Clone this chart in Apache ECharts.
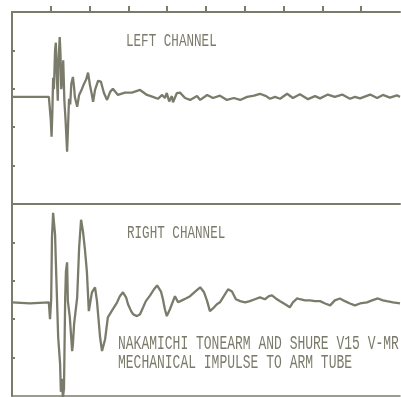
<!DOCTYPE html>
<html><head><meta charset="utf-8">
<script src="https://cdn.jsdelivr.net/npm/echarts@6/dist/echarts.min.js"></script>
<style>html,body{margin:0;padding:0;background:#fff}#c{width:401px;height:397px}</style>
</head><body><div id="c"></div>
<script>
// time in screen divisions, amplitude in vertical divisions
const leftT = [0,0.95,0.98,1.0,1.02,1.04,1.06,1.08,1.11,1.13,1.15,1.18,1.2,1.23,1.25,1.27,1.3,1.32,1.35,1.38,1.42,1.44,1.47,1.5,1.53,1.57,1.6,1.62,1.68,1.73,1.8,1.86,1.91,1.96,2.01,2.06,2.09,2.14,2.22,2.29,2.37,2.45,2.53,2.6,2.73,2.91,3.09,3.3,3.48,3.63,3.76,3.87,3.94,3.99,4.05,4.12,4.15,4.25,4.33,4.46,4.59,4.77,4.85,5.03,5.18,5.36,5.54,5.72,5.88,6.06,6.24,6.39,6.55,6.65,6.78,6.91,7.09,7.24,7.42,7.63,7.81,7.94,8.14,8.32,8.51,8.71,8.84,8.97,9.23,9.41,9.56,9.74,9.92,10];
const leftV = [0,0,0.02,-0.6,-1.04,-0.4,0.5,0.2,1.22,1.41,0.7,-0.1,0.96,1.56,1.1,0.2,0.5,0.95,-0.1,-0.6,-1.43,-0.9,-0.05,-0.2,0.35,0.52,0.25,0,-0.26,0.05,0.2,0.35,0.45,0.63,0.3,0.05,-0.13,0.18,0.42,0.4,0.1,-0.08,0.13,0.21,0.05,0.11,0.11,0.18,0.05,0,-0.05,0.05,-0.03,0.1,-0.12,0.02,-0.14,0.1,0.11,-0.03,-0.08,0.02,-0.08,0.05,-0.03,0.03,-0.08,-0.03,-0.08,0,0.03,0.08,0.02,-0.05,0,-0.05,0.08,-0.03,0.07,-0.06,0.02,-0.04,0.06,0,0.06,-0.05,0,-0.04,0.06,-0.03,0.05,-0.02,0.04,0];
const rightT = [0,0.46,0.95,0.98,1.01,1.03,1.06,1.08,1.11,1.13,1.19,1.24,1.26,1.29,1.31,1.34,1.37,1.39,1.42,1.44,1.49,1.55,1.57,1.6,1.68,1.73,1.78,1.83,1.88,1.93,1.98,2.06,2.14,2.19,2.27,2.32,2.4,2.47,2.6,2.71,2.78,2.86,2.94,2.99,3.07,3.12,3.22,3.3,3.38,3.45,3.56,3.66,3.74,3.79,3.84,3.89,3.94,3.99,4.07,4.12,4.2,4.28,4.38,4.48,4.59,4.72,4.85,4.95,5.03,5.1,5.18,5.28,5.36,5.46,5.57,5.67,5.77,5.88,6.01,6.13,6.26,6.39,6.52,6.62,6.7,6.8,6.91,7.04,7.16,7.24,7.35,7.42,7.55,7.68,7.81,7.94,8.07,8.2,8.32,8.45,8.58,8.71,8.84,8.97,9.15,9.28,9.43,9.56,9.66,9.82,10];
const rightV = [0,-0.03,0,-0.44,0.08,1.68,2.33,2.1,1.76,1.06,-0.91,-1.61,-2.33,-1.99,-2.5,-2.25,0.08,0.8,1.04,0.03,-0.39,-1.27,-1.09,-0.57,0.13,1.42,2.15,1.84,1.37,0.8,-0.23,0.26,0.39,0.03,-0.91,-1.27,-0.96,-0.39,-0.18,0,0.16,0.26,0.13,-0.05,-0.23,-0.31,-0.36,-0.31,-0.13,0.03,0.18,0.34,0.44,0.47,0.28,0.08,-0.18,-0.36,-0.18,-0.05,0.16,0,0.05,0.1,0.16,0.28,0.39,0.26,0.03,-0.23,-0.16,-0.05,0,0.16,0.34,0.28,0.08,0.03,0,0.03,0.08,0.13,0.08,0.16,0.18,0.1,0.03,-0.05,-0.13,0,0.1,0.08,0.05,0.05,0.03,0.03,-0.03,-0.08,0.05,0.1,0.03,-0.03,-0.08,-0.03,0,0.05,0.1,0.05,0.03,0,-0.03];
const xTicks = [1,2,3,4,5,6,7,8,9];
const leftYTicks = [1.21,0.21,-0.79,-1.79];
const rightYTicks = [1.56,0.56,-0.44,-1.44];
const labels = {
  left: 'LEFT CHANNEL',
  right: 'RIGHT CHANNEL',
  note1: 'NAKAMICHI TONEARM AND SHURE V15 V-MR',
  note2: 'MECHANICAL IMPULSE TO ARM TUBE'
};

const C = '#7b7b6b';
const zip = (t, v) => t.map((x, i) => [x, v[i]]);
const chart = echarts.init(document.getElementById('c'), null, {renderer: 'canvas'});
const txt = (s, x, y, size, sy) => ({
  type: 'text', x: x, y: y, scaleY: sy,
  style: {text: s, font: size + 'px "Liberation Mono", "DejaVu Sans Mono", monospace', fill: C, align: 'left', verticalAlign: 'middle'}
});
const line = (w) => ({show: true, onZero: false, lineStyle: {color: C, width: w}});
chart.setOption({
  backgroundColor: '#ffffff',
  animation: false,
  grid: [
    {left: 12, right: 1, top: 12, height: 192},
    {left: 12, right: 1, top: 204, height: 192}
  ],
  xAxis: [
    {gridIndex: 0, type: 'value', position: 'top', min: 0, max: 10,
     axisLine: line(2),
     axisTick: {show: true, inside: false, length: 6, customValues: xTicks, lineStyle: {color: C, width: 2}},
     axisLabel: {show: false}, splitLine: {show: false}},
    {gridIndex: 1, type: 'value', position: 'top', min: 0, max: 10,
     axisLine: line(2),
     axisTick: {show: false}, axisLabel: {show: false}, splitLine: {show: false}},
    {gridIndex: 1, type: 'value', position: 'bottom', min: 0, max: 10,
     axisLine: line(1.5),
     axisTick: {show: false}, axisLabel: {show: false}, splitLine: {show: false}}
  ],
  yAxis: [
    {gridIndex: 0, type: 'value', position: 'left', min: -2.79, max: 2.21,
     axisLine: line(2),
     axisTick: {show: true, inside: true, length: 3, customValues: leftYTicks, lineStyle: {color: C, width: 2}},
     axisLabel: {show: false}, splitLine: {show: false}},
    {gridIndex: 1, type: 'value', position: 'left', min: -2.44, max: 2.56,
     axisLine: line(2),
     axisTick: {show: true, inside: true, length: 3, customValues: rightYTicks, lineStyle: {color: C, width: 2}},
     axisLabel: {show: false}, splitLine: {show: false}}
  ],
  series: [
    {type: 'line', xAxisIndex: 0, yAxisIndex: 0, data: zip(leftT, leftV), showSymbol: false,
     lineStyle: {color: C, width: 2.3}, clip: true},
    {type: 'line', xAxisIndex: 1, yAxisIndex: 1, data: zip(rightT, rightV), showSymbol: false,
     lineStyle: {color: C, width: 2.3}, clip: true}
  ],
  graphic: [
    txt(labels.left, 126, 41, 12.6, 1.45),
    txt(labels.right, 127, 233, 12.6, 1.45),
    txt(labels.note1, 118, 344, 13, 1.5),
    txt(labels.note2, 118, 363, 13, 1.5)
  ]
});
</script></body></html>
